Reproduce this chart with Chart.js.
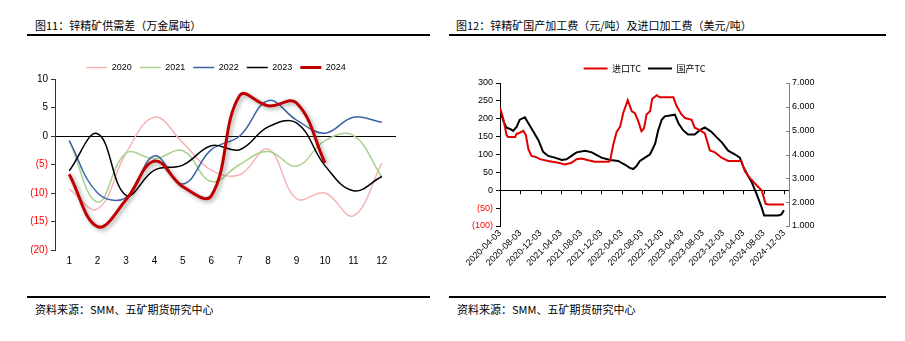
<!DOCTYPE html>
<html>
<head>
<meta charset="utf-8">
<script src="https://cdn.jsdelivr.net/npm/chart.js@4.4.1/dist/chart.umd.min.js"></script>
<style>
  body { margin: 0; width: 905px; height: 341px; background: #fff; position: relative; overflow: hidden;
         font-family: "Noto Sans CJK SC", sans-serif; color: #000; }
  .title { position: absolute; top: 18px; font-size: 11px; line-height: 14px; white-space: nowrap; }
  .rule { position: absolute; height: 0; border-top: 2px solid #000; }
  .src { position: absolute; top: 302px; font-size: 11px; line-height: 14px; white-space: nowrap; }
  canvas { position: absolute; }
</style>
</head>
<body>
<div class="title" style="left:35px">图11：锌精矿供需差（万金属吨）</div>
<div class="title" style="left:456px">图12：锌精矿国产加工费（元/吨）及进口加工费（美元/吨）</div>
<div class="rule" style="left:27px;width:403px;top:34px"></div>
<div class="rule" style="left:449px;width:437px;top:34px"></div>
<div class="rule" style="left:27px;width:403px;top:296px"></div>
<div class="rule" style="left:449px;width:437px;top:296px"></div>
<div class="src" style="left:35px">资料来源：SMM、五矿期货研究中心</div>
<div class="src" style="left:457px">资料来源：SMM、五矿期货研究中心</div>

<canvas id="gapChart" width="440" height="240" style="left:0;top:40px"></canvas>
<canvas id="tcChart" width="455" height="240" style="left:450px;top:40px"></canvas>

<script>
// ---- 图11 data: monthly supply-demand gap (10k t metal)
const months = ["1", "2", "3", "4", "5", "6", "7", "8", "9", "10", "11", "12"];
const gap2020 = [-9.3, -12.8, -3.0, 3.3, -1.2, -6.0, -6.8, -2.3, -11.0, -10.0, -14.0, -4.8];
const gap2021 = [-0.8, -11.6, -3.0, -4.0, -2.6, -8.0, -5.0, -2.7, -5.3, -0.8, 0.1, -7.2];
const gap2022 = [-0.8, -10.0, -10.8, -3.5, -8.4, -2.4, 0.0, 6.2, 2.8, 0.5, 3.3, 2.4];
const gap2023 = [-6.1, 0.4, -10.4, -6.0, -5.1, -1.7, -2.4, 1.6, 2.3, -5.2, -9.6, -7.1];
const gap2024 = [-6.7, -15.9, -11.2, -4.4, -8.9, -10.5, 7.1, 5.3, 5.8, -4.7];

// ---- 图12 data: x = months since 2020-04-03
const tcDateTicks = [
  "2020-04-03", "2020-08-03", "2020-12-03", "2021-04-03", "2021-08-03",
  "2021-12-03", "2022-04-03", "2022-08-03", "2022-12-03", "2023-04-03",
  "2023-08-03", "2023-12-03", "2024-04-03", "2024-08-03", "2024-12-03",
];
const importMonths = [0, 0.7, 1.3, 1.6, 3.0, 3.3, 3.6, 4.6, 5.1, 5.6,
  6.2, 6.9, 7.9, 9.5, 11.5, 12.8, 14.1, 15.1, 16.1, 17.4,
  18.7, 21.4, 21.7, 22.3, 23.0, 23.7, 24.3, 25.2, 26.0, 26.6,
  27.3, 27.9, 28.4, 28.9, 29.6, 30.0, 30.9, 31.5, 34.2, 34.8,
  35.8, 36.5, 37.8, 38.4, 39.4, 40.4, 41.4, 42.4, 43.7, 45.0,
  47.6, 48.3, 49.3, 50.6, 51.6, 52.4, 52.9, 56];
const importTC = [231, 197, 154, 149, 149, 159, 159, 166, 154, 115,
  96, 94, 87, 82, 77, 72, 77, 87, 89, 84,
  80, 80, 82, 125, 163, 178, 216, 252, 221, 216,
  192, 165, 173, 212, 221, 255, 266, 260, 260, 236,
  212, 202, 197, 175, 168, 159, 111, 106, 91, 82,
  82, 53, 34, 14, 0, -38, -40, -40];
const domesticMonths = [0, 0.7, 1.3, 2.0, 2.6, 3.3, 3.9, 4.9, 5.6, 6.6,
  7.6, 8.5, 9.5, 10.8, 12.2, 13.1, 14.1, 15.1, 16.8, 18.1,
  19.1, 20.0, 21.7, 23.3, 24.6, 25.6, 26.3, 26.9, 27.6, 28.6,
  29.6, 30.6, 31.2, 31.9, 32.5, 34.5, 35.2, 36.1, 37.1, 38.4,
  39.4, 40.4, 41.7, 42.7, 43.7, 45.0, 46.3, 47.3, 48.0, 49.0,
  49.6, 50.6, 51.6, 52.1, 54.9, 55.5, 56];
const domesticTC = [5890, 5380, 5120, 5070, 4990, 5170, 5460, 5560, 5310, 4950,
  4590, 4110, 3940, 3870, 3770, 3800, 3940, 4090, 4160, 4090,
  3970, 3870, 3770, 3730, 3580, 3440, 3390, 3510, 3730, 3870,
  4010, 4450, 5020, 5460, 5600, 5670, 5310, 5020, 4840, 4840,
  5020, 5140, 4950, 4730, 4520, 4160, 4010, 3870, 3480, 3080,
  2860, 2350, 1780, 1440, 1440, 1490, 1660];

const tickFont = { family: "'Liberation Sans', Arial, sans-serif", size: 10 };
const smallFont = { family: "'Liberation Sans', Arial, sans-serif", size: 9 };
const negLabel = (v) => (v < 0 ? `(${-v})` : `${v}`);
const negColor = (c) => (c.tick.value < 0 ? "#FF0000" : "#000");

// drop shadow under the 2024 line
const shadowPlugin = {
  id: "shadow",
  beforeDatasetDraw(chart, args) {
    if (args.index !== 4) return;
    const ctx = chart.ctx;
    ctx.save();
    ctx.shadowColor = "rgba(0,0,0,0.35)";
    ctx.shadowBlur = 4;
    ctx.shadowOffsetX = 2;
    ctx.shadowOffsetY = 2;
  },
  afterDatasetDraw(chart, args) {
    if (args.index === 4) chart.ctx.restore();
  },
};

// the original legend sits a bit right of the canvas centre
const legendShift = {
  id: "legendShift",
  afterLayout(chart) {
    chart.legend.left += 18;
    chart.legend.right += 18;
  },
};

const gapLine = (label, data, color, width, order) => ({
  label, data, order,
  borderColor: color, backgroundColor: color, borderWidth: width,
  pointRadius: 0, tension: 0.4, fill: false,
});

new Chart(document.getElementById("gapChart"), {
  type: "line",
  data: {
    labels: months,
    datasets: [
      gapLine("2020", gap2020, "#F4B4B6", 1.5, 4),
      gapLine("2021", gap2021, "#A9D18E", 1.5, 3),
      gapLine("2022", gap2022, "#3A62A8", 1.5, 2),
      gapLine("2023", gap2023, "#000000", 1.5, 1),
      gapLine("2024", gap2024, "#C00000", 3, 0),
    ],
  },
  options: {
    responsive: false,
    animation: false,
    layout: { padding: { top: 15, right: 44, left: 0, bottom: 0 } },
    plugins: {
      legend: {
        maxHeight: 24,
        labels: {
          usePointStyle: true, pointStyle: "line", pointStyleWidth: 21,
          padding: 8, color: "#000", font: smallFont,
          sort: (a, b) => a.datasetIndex - b.datasetIndex,
        },
      },
      tooltip: { enabled: false },
    },
    scales: {
      x: {
        offset: true,
        grid: { display: false, drawTicks: false },
        border: { display: false },
        ticks: { color: "#000", font: tickFont, padding: 5 },
        afterFit: (s) => { s.height = 30; },
      },
      y: {
        min: -20, max: 10,
        ticks: { stepSize: 5, callback: negLabel, color: negColor, font: tickFont, padding: 3 },
        grid: {
          color: (c) => (c.tick.value === 0 ? "#000" : "rgba(0,0,0,0)"),
          tickColor: "#333", tickLength: 4,
        },
        border: { color: "#333" },
        afterFit: (s) => { s.width = 55; },
      },
    },
  },
  plugins: [shadowPlugin, legendShift],
});

// tick marks on the zero line and inward ticks on the right axis
const tcTicksPlugin = {
  id: "tcTicks",
  afterDraw(chart) {
    const { ctx, scales } = chart;
    const y0 = scales.yL.getPixelForValue(0);
    ctx.save();
    ctx.lineWidth = 1;
    ctx.strokeStyle = "#000";
    scales.x.ticks.forEach((t) => {
      const px = Math.round(scales.x.getPixelForValue(t.value)) + 0.5;
      ctx.beginPath();
      ctx.moveTo(px, y0);
      ctx.lineTo(px, y0 + 4);
      ctx.stroke();
    });
    ctx.strokeStyle = "#808080";
    const xr = scales.yR.left;
    scales.yR.ticks.forEach((t) => {
      const py = Math.round(scales.yR.getPixelForValue(t.value)) + 0.5;
      ctx.beginPath();
      ctx.moveTo(xr - 3, py);
      ctx.lineTo(xr, py);
      ctx.stroke();
    });
    ctx.restore();
  },
};

new Chart(document.getElementById("tcChart"), {
  type: "line",
  data: {
    datasets: [
      {
        label: "进口TC",
        data: importMonths.map((m, i) => ({ x: m, y: importTC[i] })),
        yAxisID: "yL",
        borderColor: "#E00000", backgroundColor: "#E00000", borderWidth: 2,
        pointRadius: 0, tension: 0,
      },
      {
        label: "国产TC",
        data: domesticMonths.map((m, i) => ({ x: m, y: domesticTC[i] })),
        yAxisID: "yR",
        borderColor: "#000000", backgroundColor: "#000000", borderWidth: 2,
        pointRadius: 0, tension: 0,
      },
    ],
  },
  options: {
    responsive: false,
    animation: false,
    layout: { padding: { top: 17, right: 0, left: 0, bottom: 0 } },
    plugins: {
      legend: {
        fullSize: false,
        maxHeight: 31,
        labels: {
          usePointStyle: true, pointStyle: "line", pointStyleWidth: 24,
          padding: 7, color: "#000",
          font: { family: "'Noto Sans CJK SC', sans-serif", size: 9 },
        },
      },
      tooltip: { enabled: false },
    },
    scales: {
      x: {
        type: "linear",
        min: 0, max: 57,
        grid: { display: false, drawTicks: false },
        border: { display: false },
        ticks: {
          stepSize: 4, includeBounds: false, autoSkip: false,
          minRotation: 45, maxRotation: 45,
          callback: (v) => tcDateTicks[v / 4] ?? "",
          color: "#000", font: smallFont, padding: 2,
        },
        afterFit: (s) => { s.height = 54; },
      },
      yL: {
        position: "left",
        min: -100, max: 300,
        ticks: { stepSize: 50, callback: negLabel, color: negColor, font: smallFont, padding: 3 },
        grid: {
          color: (c) => (c.tick.value === 0 ? "#000" : "rgba(0,0,0,0)"),
          tickColor: "#000", tickLength: 4,
        },
        border: { color: "#000" },
        afterFit: (s) => { s.width = 50; },
      },
      yR: {
        position: "right",
        min: 1000, max: 7000,
        ticks: { stepSize: 1000, callback: (v) => `${v / 1000}.000`, color: "#000", font: smallFont, padding: 3 },
        grid: { drawOnChartArea: false, drawTicks: false },
        border: { color: "#808080" },
        afterFit: (s) => { s.width = 116; },
      },
    },
  },
  plugins: [tcTicksPlugin],
});
</script>
</body>
</html>
